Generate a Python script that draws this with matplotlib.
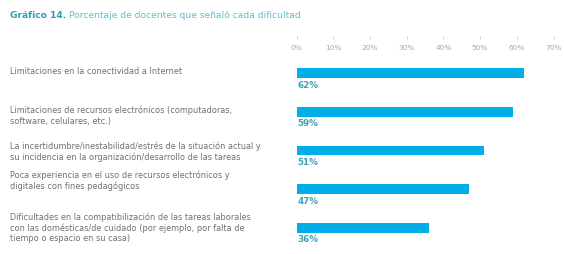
import matplotlib
matplotlib.use("Agg")
import matplotlib.pyplot as plt
import matplotlib.transforms as mtransforms

categories = [
    "Limitaciones en la conectividad a Internet",
    "Limitaciones de recursos electrónicos (computadoras,\nsoftware, celulares, etc.)",
    "La incertidumbre/inestabilidad/estrés de la situación actual y\nsu incidencia en la organización/desarrollo de las tareas",
    "Poca experiencia en el uso de recursos electrónicos y\ndigitales con fines pedagógicos",
    "Dificultades en la compatibilización de las tareas laborales\ncon las domésticas/de cuidado (por ejemplo, por falta de\ntiempo o espacio en su casa)",
]
values = [62, 59, 51, 47, 36]
ticks = [0, 10, 20, 30, 40, 50, 60, 70]
tick_labels = ["0%", "10%", "20%", "30%", "40%", "50%", "60%", "70%"]

plt.rcParams['font.family'] = ['DejaVu Sans']

W, H = 564, 254
fig = plt.figure(figsize=(W / 100, H / 100), dpi=100)
fig.patch.set_facecolor('white')

left, right = 296.7 / W, 553.5 / W
top_px, bot_px = 36, 250
ax = fig.add_axes([left, 1 - bot_px / H, right - left, (bot_px - top_px) / H])

ypos = list(range(len(values)))
ax.barh(ypos, values, height=0.25, color='#00aee8', zorder=2)
ax.set_xlim(0, 70)
ax.set_ylim(4.57, -0.96)

for s in ax.spines.values():
    s.set_visible(False)
ax.set_yticks([])
ax.xaxis.tick_top()
ax.set_xticks(ticks)
ax.set_xticklabels(tick_labels)
ax.tick_params(axis='x', direction='in', length=2.5, width=0.6, color='#c8c8c8',
               labelsize=5.3, labelcolor='#a8a8a8', pad=-11)

for y, v in zip(ypos, values):
    ax.text(0.3, y + 0.31, f"{v}%", color='#3aa3b8', fontsize=6.3, fontweight='bold',
            va='center', ha='left')

trans = mtransforms.blended_transform_factory(fig.transFigure, ax.transData)
label_offsets = [-0.05, 0.1, 0.04, -0.22, 0.0]
for y, lab, off in zip(ypos, categories, label_offsets):
    fig.text(10 / W, y + off, lab, transform=trans, fontsize=5.9, color='#707070',
             va='center', ha='left', linespacing=1.2)

t1 = fig.text(10 / W, 1 - 15 / H, "Gráfico 14.", fontsize=6.6, fontweight='bold', color='#2aa0aa',
              va='center', ha='left')
renderer = fig.canvas.get_renderer()
bb = t1.get_window_extent(renderer=renderer)
fig.text((bb.x1 + 3) / W, 1 - 15 / H, "Porcentaje de docentes que señaló cada dificultad",
         fontsize=6.6, color='#55c3cf', va='center', ha='left')

fig.savefig("out.png", dpi=100, facecolor='white')
